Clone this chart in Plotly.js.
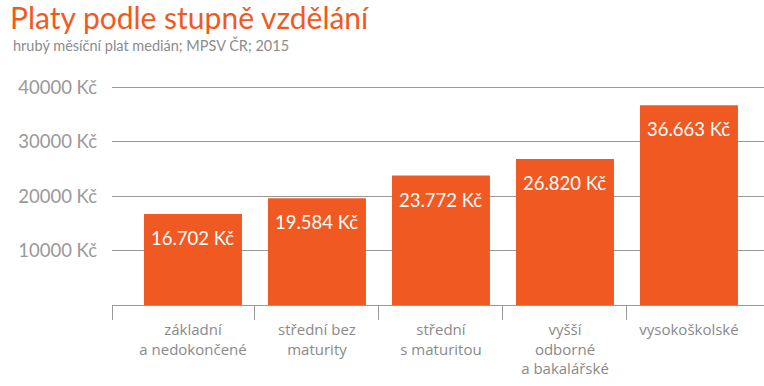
<!DOCTYPE html>
<html>
<head>
<meta charset="utf-8">
<script src="https://cdn.plot.ly/plotly-3.0.1.min.js"></script>
<style>html,body{margin:0;padding:0;background:#fff;}#chart{width:764px;height:386px;}</style>
</head>
<body>
<div id="chart"></div>
<script>
const categories = ["základní<br>a nedokončené", "střední bez<br>maturity", "střední<br>s maturitou", "vyšší<br>odborné<br>a bakalářské", "vysokoškolské"];
const salaries = [16702, 19584, 23772, 26820, 36663];
const yTickVals = [10000, 20000, 30000, 40000];
const yTickText = ["10000 Kč", "20000 Kč", "30000 Kč", "40000 Kč"];

const ORANGE = "#F05A22";
const GREY = "#999999";
const FONT = "Lato, 'Open Sans', sans-serif";
const FONT2 = "'Open Sans', Lato, sans-serif";

function fmt(v) {
  return String(v).replace(/\B(?=(\d{3})+(?!\d))/g, ".") + " Kč";
}

const xs = categories.map((_, i) => i);

const trace = {
  type: "bar",
  x: xs,
  y: salaries,
  width: 0.79,
  marker: { color: ORANGE },
  hoverinfo: "skip"
};

const annotations = salaries.map((v, i) => ({
  x: i, y: v, xref: "x", yref: "y",
  text: fmt(v), showarrow: false,
  yanchor: "middle", yshift: -24,
  font: { family: FONT, size: 18.5, color: "#ffffff" }
}));

annotations.push({
  xref: "paper", yref: "paper", x: -0.159, y: 1.31,
  xanchor: "left", yanchor: "top", showarrow: false,
  text: "Platy podle stupně vzdělání",
  font: { family: FONT, size: 30, color: ORANGE }
});
annotations.push({
  xref: "paper", yref: "paper", x: -0.155, y: 1.106,
  xanchor: "left", yanchor: "middle", showarrow: false,
  text: "hrubý měsíční plat medián; MPSV ČR; 2015",
  font: { family: FONT, size: 14.5, color: "#8c8c8c" }
});

const layout = {
  width: 764, height: 386,
  margin: { l: 112, r: 0, t: 70, b: 81 },
  paper_bgcolor: "#ffffff", plot_bgcolor: "#ffffff",
  showlegend: false,
  font: { family: FONT },
  xaxis: {
    range: [-0.653, 4.605],
    tickmode: "array", tickvals: xs, ticktext: categories,
    ticks: "", showgrid: false, zeroline: false,
    showline: true, linecolor: GREY, linewidth: 1,
    tickfont: { family: FONT2, size: 15, color: "#8a8a8a" },
    ticklabelstandoff: 11,
    minor: {
      tickmode: "array",
      tickvals: [-0.653, 0.5, 1.5, 2.5, 3.5],
      ticks: "outside", ticklen: 14, tickwidth: 1, tickcolor: GREY,
      showgrid: false
    },
    fixedrange: true
  },
  yaxis: {
    range: [0, 43150],
    tickmode: "array", tickvals: yTickVals, ticktext: yTickText,
    ticks: "", showgrid: true, gridcolor: GREY, gridwidth: 1,
    zeroline: false, showline: false,
    tickfont: { family: FONT, size: 18.5, color: "#999999" },
    ticklabelstandoff: 14,
    fixedrange: true
  },
  annotations: annotations
};

Plotly.newPlot("chart", [trace], layout, { displayModeBar: false, staticPlot: true });
</script>
</body>
</html>
